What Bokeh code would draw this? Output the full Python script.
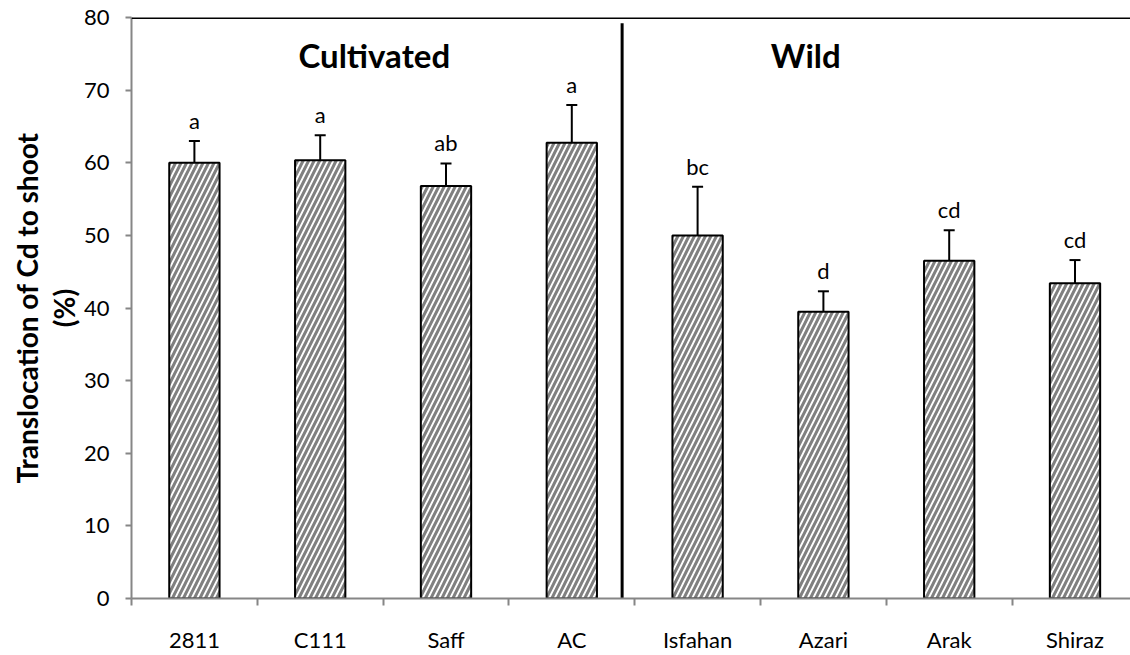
import math
from bokeh.plotting import figure
from bokeh.models import (ColumnDataSource, FixedTicker, Whisker, TeeHead, LabelSet,
                          Label, Span, Range1d)
from bokeh.core.properties import value
from bokeh.embed import file_html
from bokeh.resources import INLINE

# ---- data ----
categories = ["2811", "C111", "Saff", "AC", "Isfahan", "Azari", "Arak", "Shiraz"]
means = [60.0, 60.35, 56.8, 62.75, 50.0, 39.5, 46.5, 43.4]
errors = [3.0, 3.45, 3.1, 5.2, 6.7, 2.8, 4.2, 3.2]
letters = ["a", "a", "ab", "a", "bc", "d", "cd", "cd"]
group_names = ["Cultivated", "Wild"]
group_centers = [1.93, 5.36]
y_ticks = [0, 10, 20, 30, 40, 50, 60, 70, 80]
y_title = "Translocation of Cd to shoot\n(%)"
divider_x = 3.9

FONT = "Lato"

xs = [i + 0.5 for i in range(len(categories))]
tops = [m + e for m, e in zip(means, errors)]
src = ColumnDataSource(dict(x=xs, mean=means, top=tops, letter=letters, cat=categories))

W, H = 1130, 655
LEFT, TOP, BOTTOM = 131, 17, 49
p = figure(width=W, height=H, output_backend="svg", toolbar_location=None,
           x_range=Range1d(0, (W - LEFT) / 125.8), y_range=Range1d(0, 80),
           min_border_left=LEFT, min_border_right=0, min_border_top=TOP,
           min_border_bottom=BOTTOM)
p.outline_line_color = None
p.xgrid.grid_line_color = None
p.ygrid.grid_line_color = None

p.vbar(x="x", top="mean", width=0.4, source=src, fill_color="white",
       hatch_pattern="/", hatch_color="#808080", hatch_scale=11, hatch_weight=3,
       line_color="black", line_width=2)

wh = Whisker(source=src, base="x", lower="mean", upper="top", dimension="height",
             line_color="black", line_width=2,
             upper_head=TeeHead(size=11, line_color="black", line_width=2),
             lower_head=None)
p.add_layout(wh)

ls = LabelSet(source=src, x="x", y="top", text="letter", y_offset=12,
              text_align="center", text_baseline="alphabetic",
              text_font=value(FONT), text_font_size=value("22px"), text_color="black")
p.add_layout(ls)

# top border and divider
p.add_layout(Span(location=80, dimension="width", line_color="black", line_width=3))
p.segment(x0=[divider_x], x1=[divider_x], y0=[0], y1=[79.2], line_color="black", line_width=3)

for name, cx in zip(group_names, group_centers):
    p.add_layout(Label(x=cx, y=74.8, text=name, text_align="center", text_baseline="middle",
                       text_font=FONT, text_font_size="33px", text_font_style="bold",
                       text_color="black"))

# axes
xa = p.xaxis[0]
xa.ticker = FixedTicker(ticks=xs, minor_ticks=list(range(len(categories) + 1)))
xa.major_label_overrides = {x: c for x, c in zip(xs, categories)}
xa.major_tick_out = 0
xa.major_tick_in = 0
xa.minor_tick_out = 7
xa.minor_tick_in = 0
xa.minor_tick_line_color = "#868686"
xa.minor_tick_line_width = 2
xa.axis_line_color = "#868686"
xa.axis_line_width = 2
xa.major_label_standoff = 20
xa.major_label_text_font = FONT
xa.major_label_text_font_size = "22px"
xa.major_label_text_color = "black"

ya = p.yaxis[0]
ya.ticker = FixedTicker(ticks=y_ticks)
ya.major_tick_out = 6
ya.major_tick_in = 0
ya.minor_tick_line_color = None
ya.major_tick_line_color = "#868686"
ya.major_tick_line_width = 2
ya.axis_line_color = "#868686"
ya.axis_line_width = 2
ya.major_label_standoff = 16
ya.major_label_text_font = FONT
ya.major_label_text_font_size = "22px"
ya.major_label_text_color = "black"
ya.axis_label = y_title
ya.axis_label_standoff = 0
ya.axis_label_text_font = FONT
ya.axis_label_text_font_size = "28px"
ya.axis_label_text_font_style = "bold"
ya.axis_label_text_color = "black"
ya.axis_label_text_align = "center"
ya.axis_label_text_line_height = 1.1

open("out.html", "w").write(file_html(p, INLINE))
